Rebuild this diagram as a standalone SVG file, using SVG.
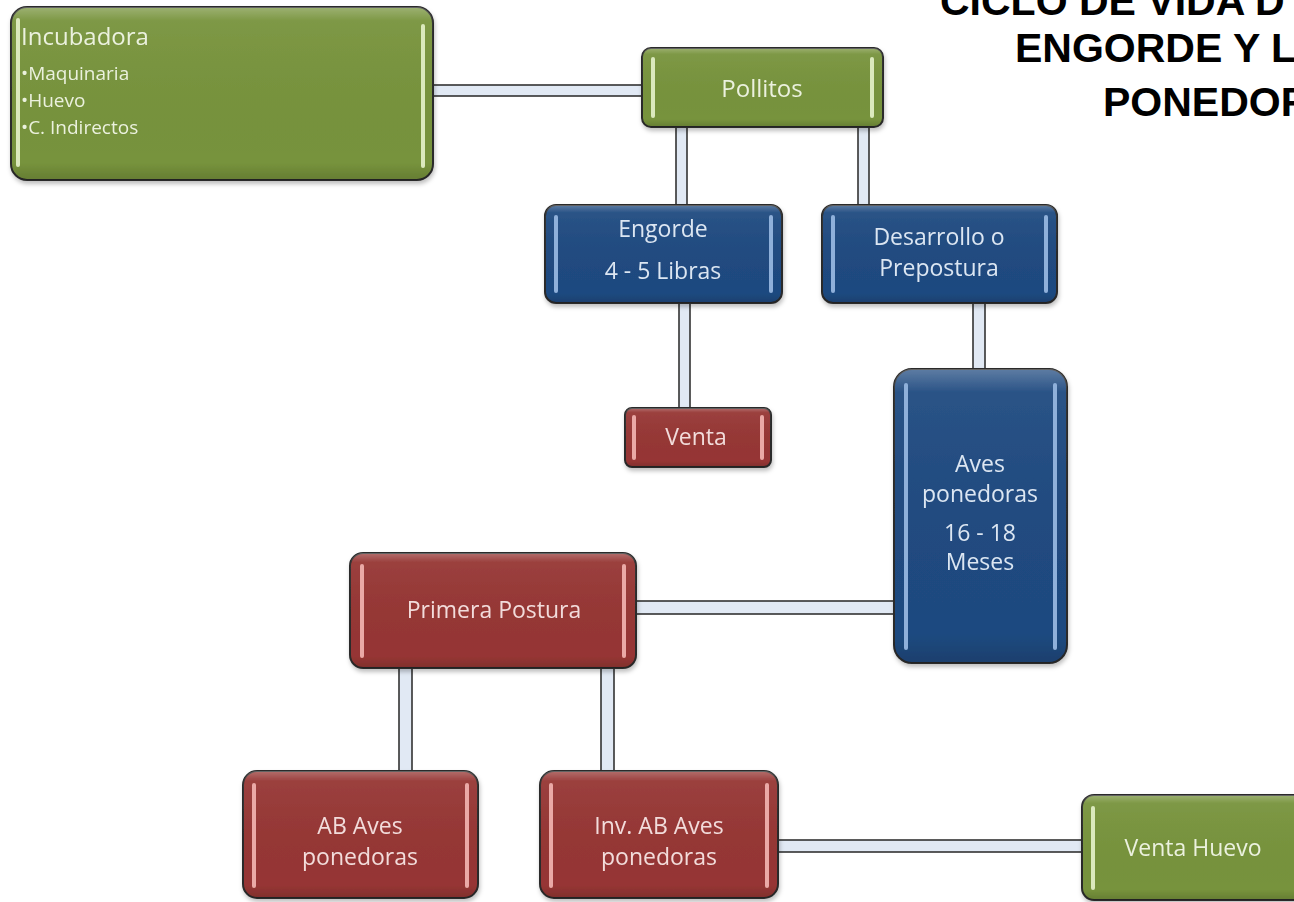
<svg xmlns="http://www.w3.org/2000/svg" width="1294" height="902" viewBox="0 0 1294 902">
  <defs>
    <style>
      .title { font-family: "Liberation Sans", Arial, sans-serif; font-weight: bold; font-size: 41px; fill: #000; }
      .box { stroke: #2a2a2a; stroke-width: 2; }
      .green { fill: #77933c; }
      .blue { fill: #1f4a80; }
      .red { fill: #963634; }
      .gloss { fill: url(#gloss); stroke: none; }
      .barG { stroke: #dbe9bd; stroke-width: 4; stroke-linecap: round; }
      .barB { stroke: #8fb0da; stroke-width: 4; stroke-linecap: round; }
      .barR { stroke: #eaa9a6; stroke-width: 4; stroke-linecap: round; }
      .lbl { font-family: "Open Sans", "Noto Sans", sans-serif; font-size: 23px; text-anchor: middle; }
      .tG { fill: #ebf1de; }
      .tB { fill: #dce6f2; }
      .tR { fill: #f2dcdb; }
      .small { font-family: "Open Sans", "Noto Sans", sans-serif; font-size: 19px; fill: #ebf1de; }
      .tube { fill: #e1e9f4; stroke: #333; stroke-width: 1.6; }
    </style>
    <linearGradient id="gloss" x1="0" y1="0" x2="0" y2="1">
      <stop offset="0" stop-color="#ffffff" stop-opacity="0.28"/>
      <stop offset="0.08" stop-color="#ffffff" stop-opacity="0.05"/>
      <stop offset="0.9" stop-color="#000000" stop-opacity="0"/>
      <stop offset="1" stop-color="#000000" stop-opacity="0.15"/>
    </linearGradient>
    <filter id="sh" x="-10%" y="-10%" width="120%" height="130%">
      <feDropShadow dx="1" dy="3" stdDeviation="2" flood-color="#000" flood-opacity="0.25"/>
    </filter>
  </defs>

  <rect width="1294" height="902" fill="#ffffff"/>

  <g id="title">
    <text class="title" x="940" y="15">CICLO DE VIDA D</text>
    <text class="title" x="1015" y="62">ENGORDE Y L</text>
    <text class="title" x="1103" y="116">PONEDOR</text>
  </g>

  <g id="connectors">
    <rect class="tube" x="430" y="85" width="214" height="11"/>
    <rect class="tube" x="676" y="124" width="11" height="83"/>
    <rect class="tube" x="858" y="124" width="11" height="81"/>
    <rect class="tube" x="679" y="300" width="11" height="110"/>
    <rect class="tube" x="973" y="300" width="12" height="72"/>
    <rect class="tube" x="632" y="601" width="263" height="13"/>
    <rect class="tube" x="399" y="665" width="13" height="108"/>
    <rect class="tube" x="601" y="665" width="13" height="108"/>
    <rect class="tube" x="775" y="840" width="310" height="12"/>
  </g>

  <g id="incubadora" filter="url(#sh)">
    <rect class="box green" x="11" y="7" width="422" height="173" rx="16"/>
    <rect class="gloss" x="11" y="7" width="422" height="173" rx="16"/>
    <line class="barG" x1="18" y1="20" x2="18" y2="165"/>
    <line class="barG" x1="423" y1="26" x2="423" y2="166"/>
    <text class="small" x="21" y="45" style="font-size:24px">Incubadora</text>
    <text class="small" x="21" y="80">•Maquinaria</text>
    <text class="small" x="21" y="107">•Huevo</text>
    <text class="small" x="21" y="134">•C. Indirectos</text>
  </g>

  <g id="pollitos" filter="url(#sh)">
    <rect class="box green" x="642" y="48" width="241" height="79" rx="9"/>
    <rect class="gloss" x="642" y="48" width="241" height="79" rx="9"/>
    <line class="barG" x1="653" y1="59" x2="653" y2="116"/>
    <line class="barG" x1="872" y1="59" x2="872" y2="116"/>
    <text class="lbl tG" x="762" y="97" style="font-size:24px">Pollitos</text>
  </g>

  <g id="engorde" filter="url(#sh)">
    <rect class="box blue" x="545" y="205" width="237" height="98" rx="11"/>
    <rect class="gloss" x="545" y="205" width="237" height="98" rx="11"/>
    <line class="barB" x1="556" y1="217" x2="556" y2="291"/>
    <line class="barB" x1="771" y1="217" x2="771" y2="291"/>
    <text class="lbl tB" x="663" y="237">Engorde</text>
    <text class="lbl tB" x="663" y="279">4 - 5 Libras</text>
  </g>

  <g id="desarrollo" filter="url(#sh)">
    <rect class="box blue" x="822" y="205" width="235" height="98" rx="11"/>
    <rect class="gloss" x="822" y="205" width="235" height="98" rx="11"/>
    <line class="barB" x1="833" y1="217" x2="833" y2="291"/>
    <line class="barB" x1="1046" y1="217" x2="1046" y2="291"/>
    <text class="lbl tB" x="939" y="245">Desarrollo o</text>
    <text class="lbl tB" x="939" y="276">Prepostura</text>
  </g>

  <g id="venta" filter="url(#sh)">
    <rect class="box red" x="625" y="408" width="146" height="59" rx="7"/>
    <rect class="gloss" x="625" y="408" width="146" height="59" rx="7"/>
    <line class="barR" x1="634" y1="417" x2="634" y2="458"/>
    <line class="barR" x1="762" y1="417" x2="762" y2="458"/>
    <text class="lbl tR" x="696" y="445">Venta</text>
  </g>

  <g id="aves-ponedoras" filter="url(#sh)">
    <rect class="box blue" x="894" y="369" width="173" height="294" rx="18"/>
    <rect class="gloss" x="894" y="369" width="173" height="294" rx="18"/>
    <line class="barB" x1="906" y1="385" x2="906" y2="648"/>
    <line class="barB" x1="1055" y1="385" x2="1055" y2="648"/>
    <text class="lbl tB" x="980" y="472">Aves</text>
    <text class="lbl tB" x="980" y="502">ponedoras</text>
    <text class="lbl tB" x="980" y="541">16 - 18</text>
    <text class="lbl tB" x="980" y="570">Meses</text>
  </g>

  <g id="primera-postura" filter="url(#sh)">
    <rect class="box red" x="350" y="553" width="286" height="115" rx="13"/>
    <rect class="gloss" x="350" y="553" width="286" height="115" rx="13"/>
    <line class="barR" x1="362" y1="566" x2="362" y2="656"/>
    <line class="barR" x1="624" y1="566" x2="624" y2="656"/>
    <text class="lbl tR" x="494" y="618">Primera Postura</text>
  </g>

  <g id="ab-aves-ponedoras" filter="url(#sh)">
    <rect class="box red" x="243" y="771" width="235" height="127" rx="14"/>
    <rect class="gloss" x="243" y="771" width="235" height="127" rx="14"/>
    <line class="barR" x1="254" y1="785" x2="254" y2="886"/>
    <line class="barR" x1="467" y1="785" x2="467" y2="886"/>
    <text class="lbl tR" x="360" y="834">AB Aves</text>
    <text class="lbl tR" x="360" y="865">ponedoras</text>
  </g>

  <g id="inv-ab-aves-ponedoras" filter="url(#sh)">
    <rect class="box red" x="540" y="771" width="238" height="127" rx="14"/>
    <rect class="gloss" x="540" y="771" width="238" height="127" rx="14"/>
    <line class="barR" x1="551" y1="785" x2="551" y2="886"/>
    <line class="barR" x1="767" y1="785" x2="767" y2="886"/>
    <text class="lbl tR" x="659" y="834">Inv. AB Aves</text>
    <text class="lbl tR" x="659" y="865">ponedoras</text>
  </g>

  <g id="venta-huevo" filter="url(#sh)">
    <rect class="box green" x="1082" y="795" width="230" height="105" rx="12"/>
    <rect class="gloss" x="1082" y="795" width="230" height="105" rx="12"/>
    <line class="barG" x1="1093" y1="808" x2="1093" y2="888"/>
    <text class="lbl tG" x="1193" y="856">Venta Huevo</text>
  </g>
</svg>
